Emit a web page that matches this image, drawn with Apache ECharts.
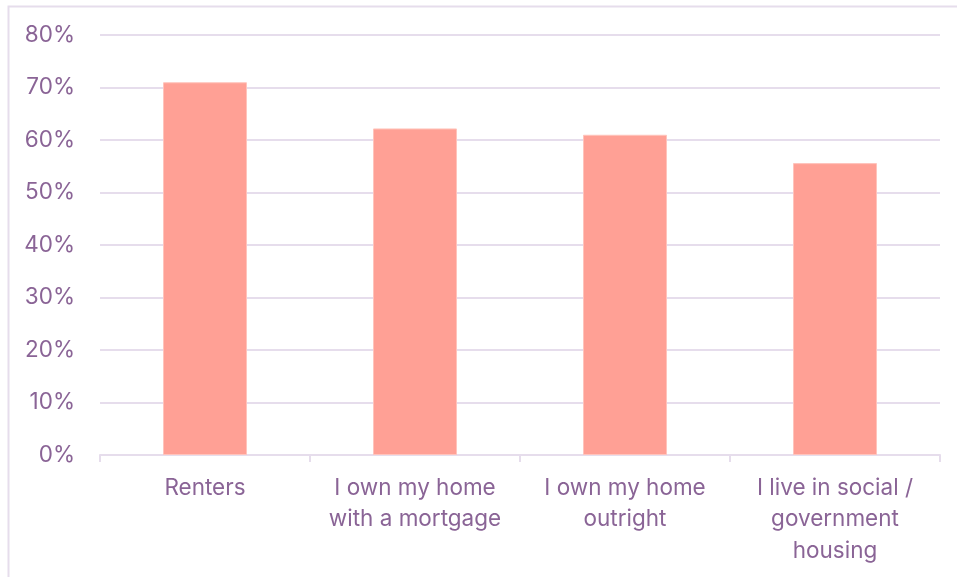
<!DOCTYPE html>
<html><head><meta charset="utf-8">
<script src="https://cdn.jsdelivr.net/npm/echarts@6/dist/echarts.min.js"></script>
<style>html,body{margin:0;padding:0;background:#fff}#c{width:957px;height:577px}</style>
</head><body><div id="c"></div>
<script>
const categories = ['Renters', 'I own my home\nwith a mortgage', 'I own my home\noutright', 'I live in social /\ngovernment\nhousing'];
const values = [71.0, 62.2, 61.0, 55.6];
const yTicks = [0, 10, 20, 30, 40, 50, 60, 70, 80];

const textColor = '#8A6496';
const gridColor = '#E6DDEC';
const chart = echarts.init(document.getElementById('c'));
chart.setOption({
  animation: false,
  graphic: [{
    type: 'rect', shape: {x: 8.5, y: 6.5, width: 1000, height: 700},
    style: {fill: 'none', stroke: '#E6DDEC', lineWidth: 2}, z: -1
  }],
  grid: {left: 100, right: 17, top: 35, bottom: 122},
  xAxis: {
    type: 'category', data: categories,
    axisLine: {lineStyle: {color: gridColor, width: 2}},
    axisTick: {show: true, length: 7, lineStyle: {color: gridColor, width: 2}},
    axisLabel: {color: textColor, fontSize: 22.5, fontFamily: 'Inter', lineHeight: 31.5, margin: 17, interval: 0}
  },
  yAxis: {
    type: 'value', min: 0, max: 80, interval: 10,
    axisLine: {show: false}, axisTick: {show: false},
    splitLine: {lineStyle: {color: gridColor, width: 2}},
    axisLabel: {color: textColor, fontSize: 22.5, fontFamily: 'Inter', margin: 25,
      formatter: v => yTicks.includes(v) ? v + '%' : ''}
  },
  series: [{
    type: 'bar', data: values, barWidth: '40%',
    itemStyle: {color: '#FFA095', borderColor: '#FFC4BC', borderWidth: 1}
  }]
});
</script></body></html>
